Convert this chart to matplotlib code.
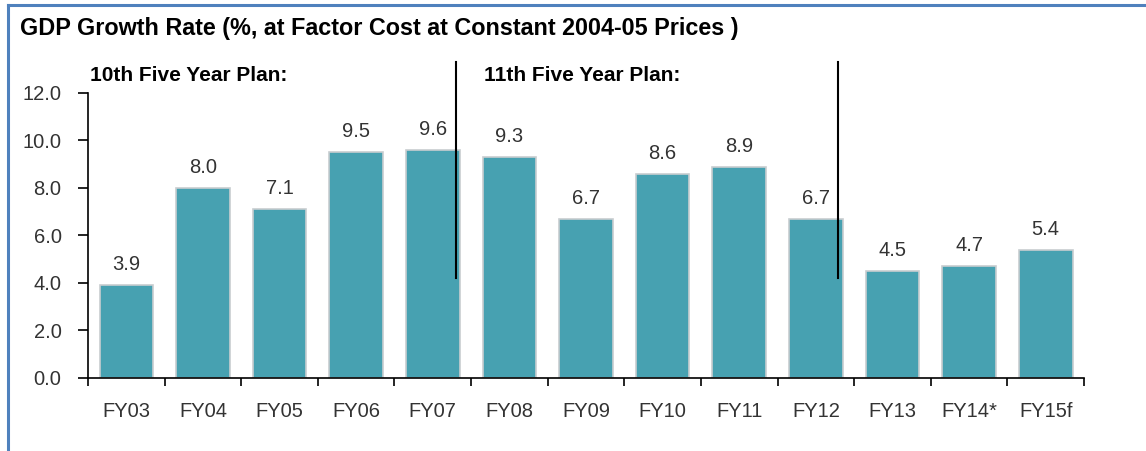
import matplotlib
matplotlib.use("Agg")
import matplotlib.pyplot as plt
from matplotlib.lines import Line2D

plt.rcParams['font.family'] = ['Liberation Sans', 'DejaVu Sans']

categories = ["FY03", "FY04", "FY05", "FY06", "FY07", "FY08", "FY09",
              "FY10", "FY11", "FY12", "FY13", "FY14*", "FY15f"]
growth = [3.9, 8.0, 7.1, 9.5, 9.6, 9.3, 6.7, 8.6, 8.9, 6.7, 4.5, 4.7, 5.4]
yticks = [0.0, 2.0, 4.0, 6.0, 8.0, 10.0, 12.0]
plan_labels = ["10th Five Year Plan:", "11th Five Year Plan:"]
title = "GDP Growth Rate (%, at Factor Cost at Constant 2004-05 Prices )"

bar_color = "#47A1B1"
edge_color = "#C8CDD0"
text_color = "#333333"
fs = 14.5

fig = plt.figure(figsize=(11.46, 4.51), dpi=100)
ax = fig.add_axes([0.0768, 0.1619, 0.8691, 0.6319])

x = list(range(len(categories)))
ax.bar(x, growth, width=0.70, color=bar_color, edgecolor=edge_color, linewidth=1.2, zorder=2)

for xi, v in zip(x, growth):
    ax.annotate(f"{v:.1f}", (xi, v), xytext=(0, 8), textcoords="offset points",
                ha="center", va="bottom", fontsize=fs, color=text_color)

ax.set_xlim(-0.5, len(categories) - 0.5)
ax.set_ylim(0, 12)
ax.set_yticks(yticks)
ax.set_yticklabels([f"{t:.1f}" for t in yticks])
ax.set_xticks([i - 0.5 for i in range(len(categories) + 1)])
ax.set_xticklabels([])
ax.set_xticks(x, minor=True)
ax.set_xticklabels(categories, minor=True)
ax.tick_params(axis="x", which="major", direction="out", length=6, width=1.2, color="black")
ax.tick_params(axis="x", which="minor", length=0, pad=17, labelsize=fs, labelcolor=text_color)
ax.tick_params(axis="y", direction="out", length=7, width=1.2, labelsize=fs,
               labelcolor=text_color, pad=12)
for s in ["top", "right"]:
    ax.spines[s].set_visible(False)
for s in ["left", "bottom"]:
    ax.spines[s].set_linewidth(1.2)

# plan divider lines
for xd in [4.30, 9.29]:
    ax.add_line(Line2D([xd, xd], [4.2, 13.3], color="black", linewidth=1.5, clip_on=False, zorder=5))

ax.text(-0.47, 12.75, plan_labels[0], fontsize=15, fontweight="bold", ha="left", va="center")
ax.text(4.67, 12.75, plan_labels[1], fontsize=15, fontweight="bold", ha="left", va="center")

fig.text(20 / 1146, 1 - 28 / 451, title, fontsize=16.8, fontweight="bold", ha="left", va="center")

# blue frame (left and top)
fig.add_artist(Line2D([8 / 1146, 8 / 1146], [0, 1 - 5 / 451], color="#4F81BD", linewidth=2.2,
                      transform=fig.transFigure))
fig.add_artist(Line2D([8 / 1146, 1], [1 - 5 / 451, 1 - 5 / 451], color="#4F81BD", linewidth=2.2,
                      transform=fig.transFigure))

fig.savefig("out.png", dpi=100)
